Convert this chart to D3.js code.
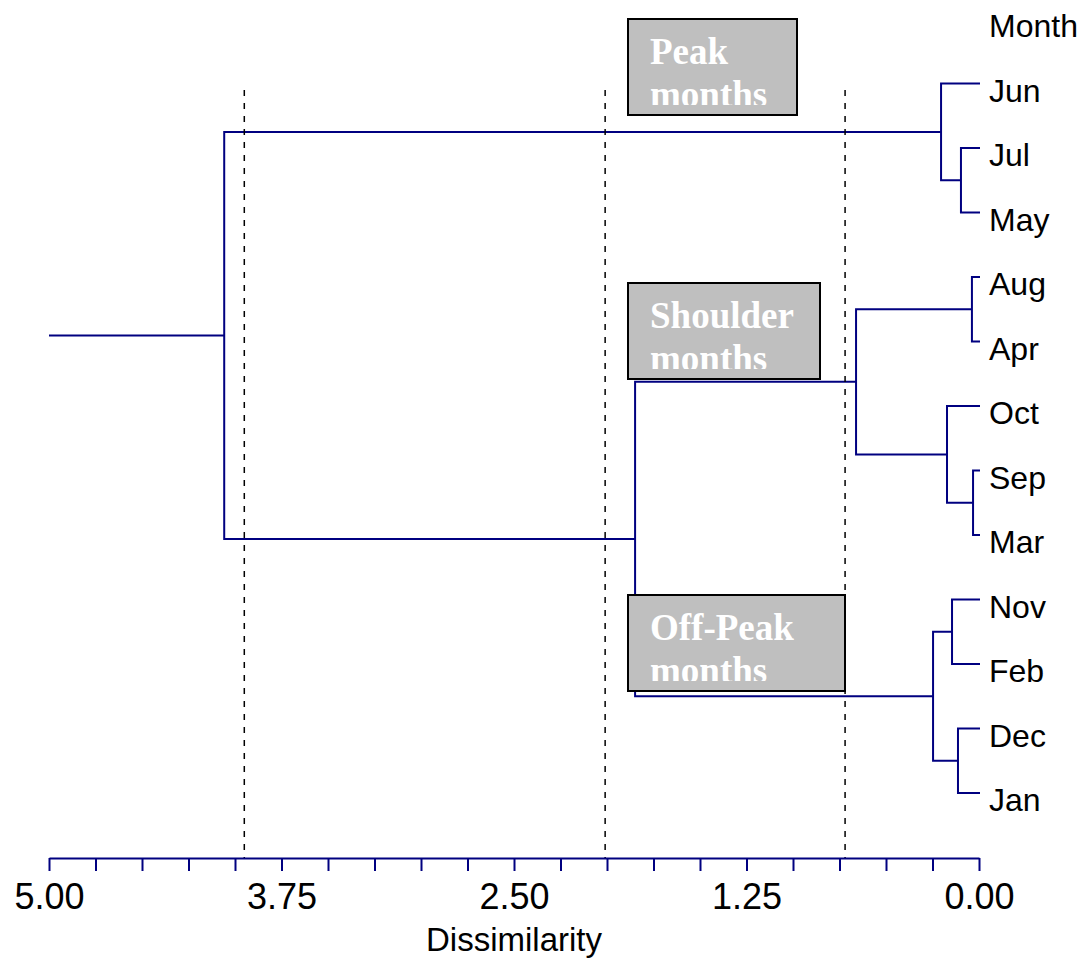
<!DOCTYPE html>
<html>
<head>
<meta charset="utf-8">
<script src="https://cdn.jsdelivr.net/npm/d3@7"></script>
<style>
  body { margin: 0; background: #fff; }
  svg { display: block; }
</style>
</head>
<body>
<div id="dendro-chart"></div>
<script>
// leaf order, top to bottom
const months = ["Jun", "Jul", "May", "Aug", "Apr", "Oct", "Sep", "Mar", "Nov", "Feb", "Dec", "Jan"]

// merge steps (hclust style): left child, right child, height. "mN" = result of step N
const mergeLeft   = ["Sep", "Aug", "Jul", "Dec", "Nov", "Oct", "Jun", "m5", "m2", "m9", "m7"]
const mergeRight  = ["Mar", "Apr", "May", "Jan", "Feb", "m1", "m3", "m4", "m6", "m8", "m10"]
const mergeHeight = [0.032, 0.038, 0.097, 0.113, 0.145, 0.172, 0.204, 0.247, 0.661, 1.849, 4.058]

// cut levels (dashed lines)
const cutHeights = [3.95, 2.01, 0.72]

// group labels
const groupLabels = [["Peak", "months"], ["Shoulder", "months"], ["Off-Peak", "months"]]

// axis
const axisMax = 5
const tickStep = 0.25
const labelledTicks = [5.00, 3.75, 2.50, 1.25, 0.00]

const width = 1087, height = 960
const xLeft = 49, xRight = 979
const leafTop = 83.5, leafBottom = 793
const axisY = 858
const treeColor = "#000080"
const sans = "'Liberation Sans', Arial, Helvetica, sans-serif"
const serif = "'Liberation Serif', 'Times New Roman', Times, serif"

// box layout (pixel positions of the annotation boxes)
const boxes = [
  {left: 628, right: 797, top: 19},
  {left: 628, right: 820, top: 283},
  {left: 628, right: 845, top: 595}
]
const boxHeight = 96

x = d3.scaleLinear()
  .domain([axisMax, 0])
  .range([xLeft, xRight])

y = d3.scaleLinear()
  .domain([0, months.length - 1])
  .range([leafTop, leafBottom])

var svg = d3.select("#dendro-chart").append("svg")
  .attr("width", width)
  .attr("height", height)
  .attr("viewBox", [0, 0, width, height])

// build node positions
var nodes = {}
months.forEach((m, i) => { nodes[m] = {x: x(0) + 1, y: y(i)} })
mergeHeight.forEach((h, i) => {
  var a = nodes[mergeLeft[i]], b = nodes[mergeRight[i]]
  nodes["m" + (i + 1)] = {x: x(h), y: (a.y + b.y) / 2, a: a, b: b}
})
var root = nodes["m" + mergeHeight.length]

const tree = svg.append("g")
  .attr("fill", "none")
  .attr("stroke", treeColor)
  .attr("stroke-width", 2)

tree.selectAll("path.elbow")
  .data(mergeHeight.map((h, i) => nodes["m" + (i + 1)]))
  .enter().append("path")
  .attr("class", "elbow")
  .attr("d", d => `M${d.a.x},${d.a.y}H${d.x}V${d.b.y}H${d.b.x}`)

// stem of the root
tree.append("path")
  .attr("d", `M${x(axisMax)},${root.y}H${root.x}`)

// leaf labels
svg.append("g")
  .selectAll("text")
  .data(months)
  .enter().append("text")
  .attr("x", x(0) + 10)
  .attr("y", (d, i) => y(i) + 18)
  .style("font", "32px " + sans)
  .attr("fill", "#000")
  .text(d => d)

svg.append("text")
  .attr("x", x(0) + 10)
  .attr("y", y(-1) + 18)
  .style("font", "32px " + sans)
  .text("Month")

// label boxes
const defs = svg.append("defs")
const box = svg.append("g")
  .selectAll("g")
  .data(boxes)
  .enter().append("g")

box.append("rect")
  .attr("x", d => d.left)
  .attr("y", d => d.top)
  .attr("width", d => d.right - d.left)
  .attr("height", boxHeight)
  .attr("fill", "#bfbfbf")
  .attr("stroke", "#000")
  .attr("stroke-width", 2)

box.each(function(d, i) {
  defs.append("clipPath")
    .attr("id", "clip" + i)
    .append("rect")
    .attr("x", d.left)
    .attr("y", d.top)
    .attr("width", d.right - d.left)
    .attr("height", 86)
  d3.select(this).append("text")
    .attr("clip-path", `url(#clip${i})`)
    .attr("fill", "#fff")
    .style("font", "bold 37px " + serif)
    .selectAll("tspan")
    .data(groupLabels[i])
    .enter().append("tspan")
    .attr("x", d.left + 22)
    .attr("y", (t, j) => d.top + 45 + j * 43)
    .text(t => t)
})

// cut lines
svg.append("g")
  .selectAll("line")
  .data(cutHeights)
  .enter().append("line")
  .attr("x1", d => x(d))
  .attr("x2", d => x(d))
  .attr("y1", 90)
  .attr("y2", axisY)
  .attr("stroke", "#000")
  .attr("stroke-width", 1.5)
  .attr("stroke-dasharray", "6,7")

// axis
xAxis = d3.axisBottom(x)
  .tickValues(d3.range(0, axisMax + tickStep / 2, tickStep))
  .tickSize(13)
  .tickSizeOuter(0)
  .tickPadding(12)
  .tickFormat(d => labelledTicks.some(v => Math.abs(v - d) < 1e-6) ? d3.format(".2f")(d) : "")

const axisG = svg.append("g")
  .attr("transform", `translate(0,${axisY})`)
  .call(xAxis)

axisG.select(".domain").attr("stroke", treeColor).attr("stroke-width", 2)
axisG.selectAll(".tick line").attr("stroke", treeColor).attr("stroke-width", 2)
axisG.selectAll(".tick text")
  .attr("fill", "#000")
  .style("font", "36px " + sans)

svg.append("text")
  .attr("x", (xLeft + xRight) / 2)
  .attr("y", 951)
  .attr("text-anchor", "middle")
  .style("font", "33px " + sans)
  .text("Dissimilarity")
</script>
</body>
</html>
